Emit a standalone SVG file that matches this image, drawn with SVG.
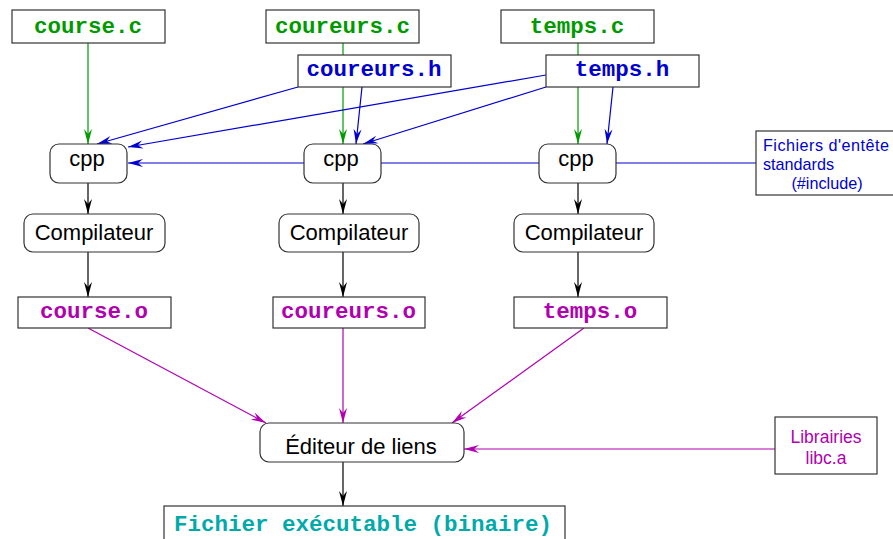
<svg xmlns="http://www.w3.org/2000/svg" width="893" height="539" viewBox="0 0 893 539">
<style>
.box{fill:#fff;stroke:#333;stroke-width:1.2}
.mono{font-family:"Liberation Mono","Courier New",monospace;font-weight:bold;font-size:22.5px;text-anchor:middle}
.sans{font-family:"Liberation Sans",Arial,sans-serif;font-size:22px;text-anchor:middle;fill:#000}
.small{font-family:"Liberation Sans",Arial,sans-serif;font-size:17.5px}
.tiny{font-family:"Liberation Sans",Arial,sans-serif;font-size:16.2px}
.g{fill:#009a00}.b{fill:#0000d0}.m{fill:#b000b0}.c{fill:#00aaaa}
.lk{fill:none;stroke:#000;stroke-width:1.2}
.lg{fill:none;stroke:#009a00;stroke-width:1.2}
.lb{fill:none;stroke:#0000d0;stroke-width:1.2}
.lm{fill:none;stroke:#b000b0;stroke-width:1.2}
</style>
<defs>
<marker id="ak" markerUnits="userSpaceOnUse" markerWidth="20" markerHeight="12" viewBox="-16 -6 17 12" refX="0" refY="0" orient="auto"><path d="M0,0 L-15,-4 L-10,0 L-15,4 z" fill="#000"/></marker>
<marker id="ag" markerUnits="userSpaceOnUse" markerWidth="20" markerHeight="12" viewBox="-16 -6 17 12" refX="0" refY="0" orient="auto"><path d="M0,0 L-15,-4 L-10,0 L-15,4 z" fill="#009a00"/></marker>
<marker id="ab" markerUnits="userSpaceOnUse" markerWidth="20" markerHeight="12" viewBox="-16 -6 17 12" refX="0" refY="0" orient="auto"><path d="M0,0 L-15,-4 L-10,0 L-15,4 z" fill="#0000d0"/></marker>
<marker id="am" markerUnits="userSpaceOnUse" markerWidth="20" markerHeight="12" viewBox="-16 -6 17 12" refX="0" refY="0" orient="auto"><path d="M0,0 L-15,-4 L-10,0 L-15,4 z" fill="#b000b0"/></marker>
</defs>
<g id="connectors">
<line class="lb" x1="756" y1="163" x2="128" y2="163" marker-end="url(#ab)"/>
<line class="lg" x1="88" y1="43" x2="88" y2="144" marker-end="url(#ag)"/>
<line class="lg" x1="343" y1="43" x2="343" y2="144" marker-end="url(#ag)"/>
<line class="lg" x1="578" y1="43" x2="578" y2="144" marker-end="url(#ag)"/>
<line class="lb" x1="298" y1="87" x2="97" y2="144" marker-end="url(#ab)"/>
<line class="lb" x1="362" y1="87" x2="356" y2="144" marker-end="url(#ab)"/>
<line class="lb" x1="546" y1="75" x2="128" y2="147" marker-end="url(#ab)"/>
<line class="lb" x1="546" y1="87" x2="363" y2="144" marker-end="url(#ab)"/>
<line class="lb" x1="613" y1="87" x2="607" y2="144" marker-end="url(#ab)"/>
<line class="lk" x1="88" y1="183" x2="88" y2="214" marker-end="url(#ak)"/>
<line class="lk" x1="343" y1="183" x2="343" y2="214" marker-end="url(#ak)"/>
<line class="lk" x1="578" y1="183" x2="578" y2="214" marker-end="url(#ak)"/>
<line class="lk" x1="88" y1="252" x2="88" y2="297" marker-end="url(#ak)"/>
<line class="lk" x1="343" y1="252" x2="343" y2="297" marker-end="url(#ak)"/>
<line class="lk" x1="578" y1="252" x2="578" y2="297" marker-end="url(#ak)"/>
<line class="lm" x1="88" y1="328" x2="266" y2="423" marker-end="url(#am)"/>
<line class="lm" x1="343" y1="328" x2="343" y2="423" marker-end="url(#am)"/>
<line class="lm" x1="584" y1="328" x2="452" y2="423" marker-end="url(#am)"/>
<line class="lm" x1="775" y1="449" x2="464" y2="449" marker-end="url(#am)"/>
<line class="lk" x1="343" y1="462" x2="343" y2="506" marker-end="url(#ak)"/>
</g>
<g id="course_c"><rect class="box" x="12" y="10" width="153" height="33"/><text class="mono g" x="88" y="33">course.c</text></g>
<g id="coureurs_c"><rect class="box" x="266" y="10" width="153" height="33"/><text class="mono g" x="342.5" y="33">coureurs.c</text></g>
<g id="temps_c"><rect class="box" x="501" y="10" width="153" height="33"/><text class="mono g" x="577" y="33">temps.c</text></g>
<g id="coureurs_h"><rect class="box" x="298" y="55" width="153" height="32"/><text class="mono b" x="374" y="76">coureurs.h</text></g>
<g id="temps_h"><rect class="box" x="546" y="55" width="153" height="32"/><text class="mono b" x="622" y="76">temps.h</text></g>
<g id="cpp1"><rect class="box" x="50" y="144" width="77" height="39" rx="9"/><text class="sans" x="87" y="166">cpp</text></g>
<g id="cpp2"><rect class="box" x="304" y="144" width="77" height="39" rx="9"/><text class="sans" x="341" y="166">cpp</text></g>
<g id="cpp3"><rect class="box" x="539" y="144" width="77" height="39" rx="9"/><text class="sans" x="576" y="166">cpp</text></g>
<g id="entetes"><rect class="box" x="756" y="131" width="150" height="64"/>
<text class="tiny b" x="763" y="151" textLength="126" lengthAdjust="spacing">Fichiers d'entête</text>
<text class="tiny b" x="763" y="170">standards</text>
<text class="tiny b" x="827" y="189" text-anchor="middle">(#include)</text></g>
<g id="comp1"><rect class="box" x="24" y="214" width="141" height="38" rx="9"/><text class="sans" x="94" y="240">Compilateur</text></g>
<g id="comp2"><rect class="box" x="279" y="214" width="140" height="38" rx="9"/><text class="sans" x="349" y="240">Compilateur</text></g>
<g id="comp3"><rect class="box" x="514" y="214" width="140" height="38" rx="9"/><text class="sans" x="584" y="240">Compilateur</text></g>
<g id="course_o"><rect class="box" x="18" y="297" width="153" height="31"/><text class="mono m" x="94" y="318">course.o</text></g>
<g id="coureurs_o"><rect class="box" x="273" y="297" width="152" height="31"/><text class="mono m" x="348.5" y="318">coureurs.o</text></g>
<g id="temps_o"><rect class="box" x="514" y="297" width="153" height="31"/><text class="mono m" x="590" y="318">temps.o</text></g>
<g id="editeur"><rect class="box" x="260" y="423" width="204" height="39" rx="9"/><text class="sans" x="361" y="454">Éditeur de liens</text></g>
<g id="librairies"><rect class="box" x="775" y="417" width="102" height="57"/>
<text class="small m" x="826" y="443" text-anchor="middle">Librairies</text>
<text class="small m" x="826" y="464" text-anchor="middle">libc.a</text></g>
<g id="executable"><rect class="box" x="164" y="506" width="401" height="40"/><text class="mono c" x="363" y="531">Fichier exécutable (binaire)</text></g>
</svg>
